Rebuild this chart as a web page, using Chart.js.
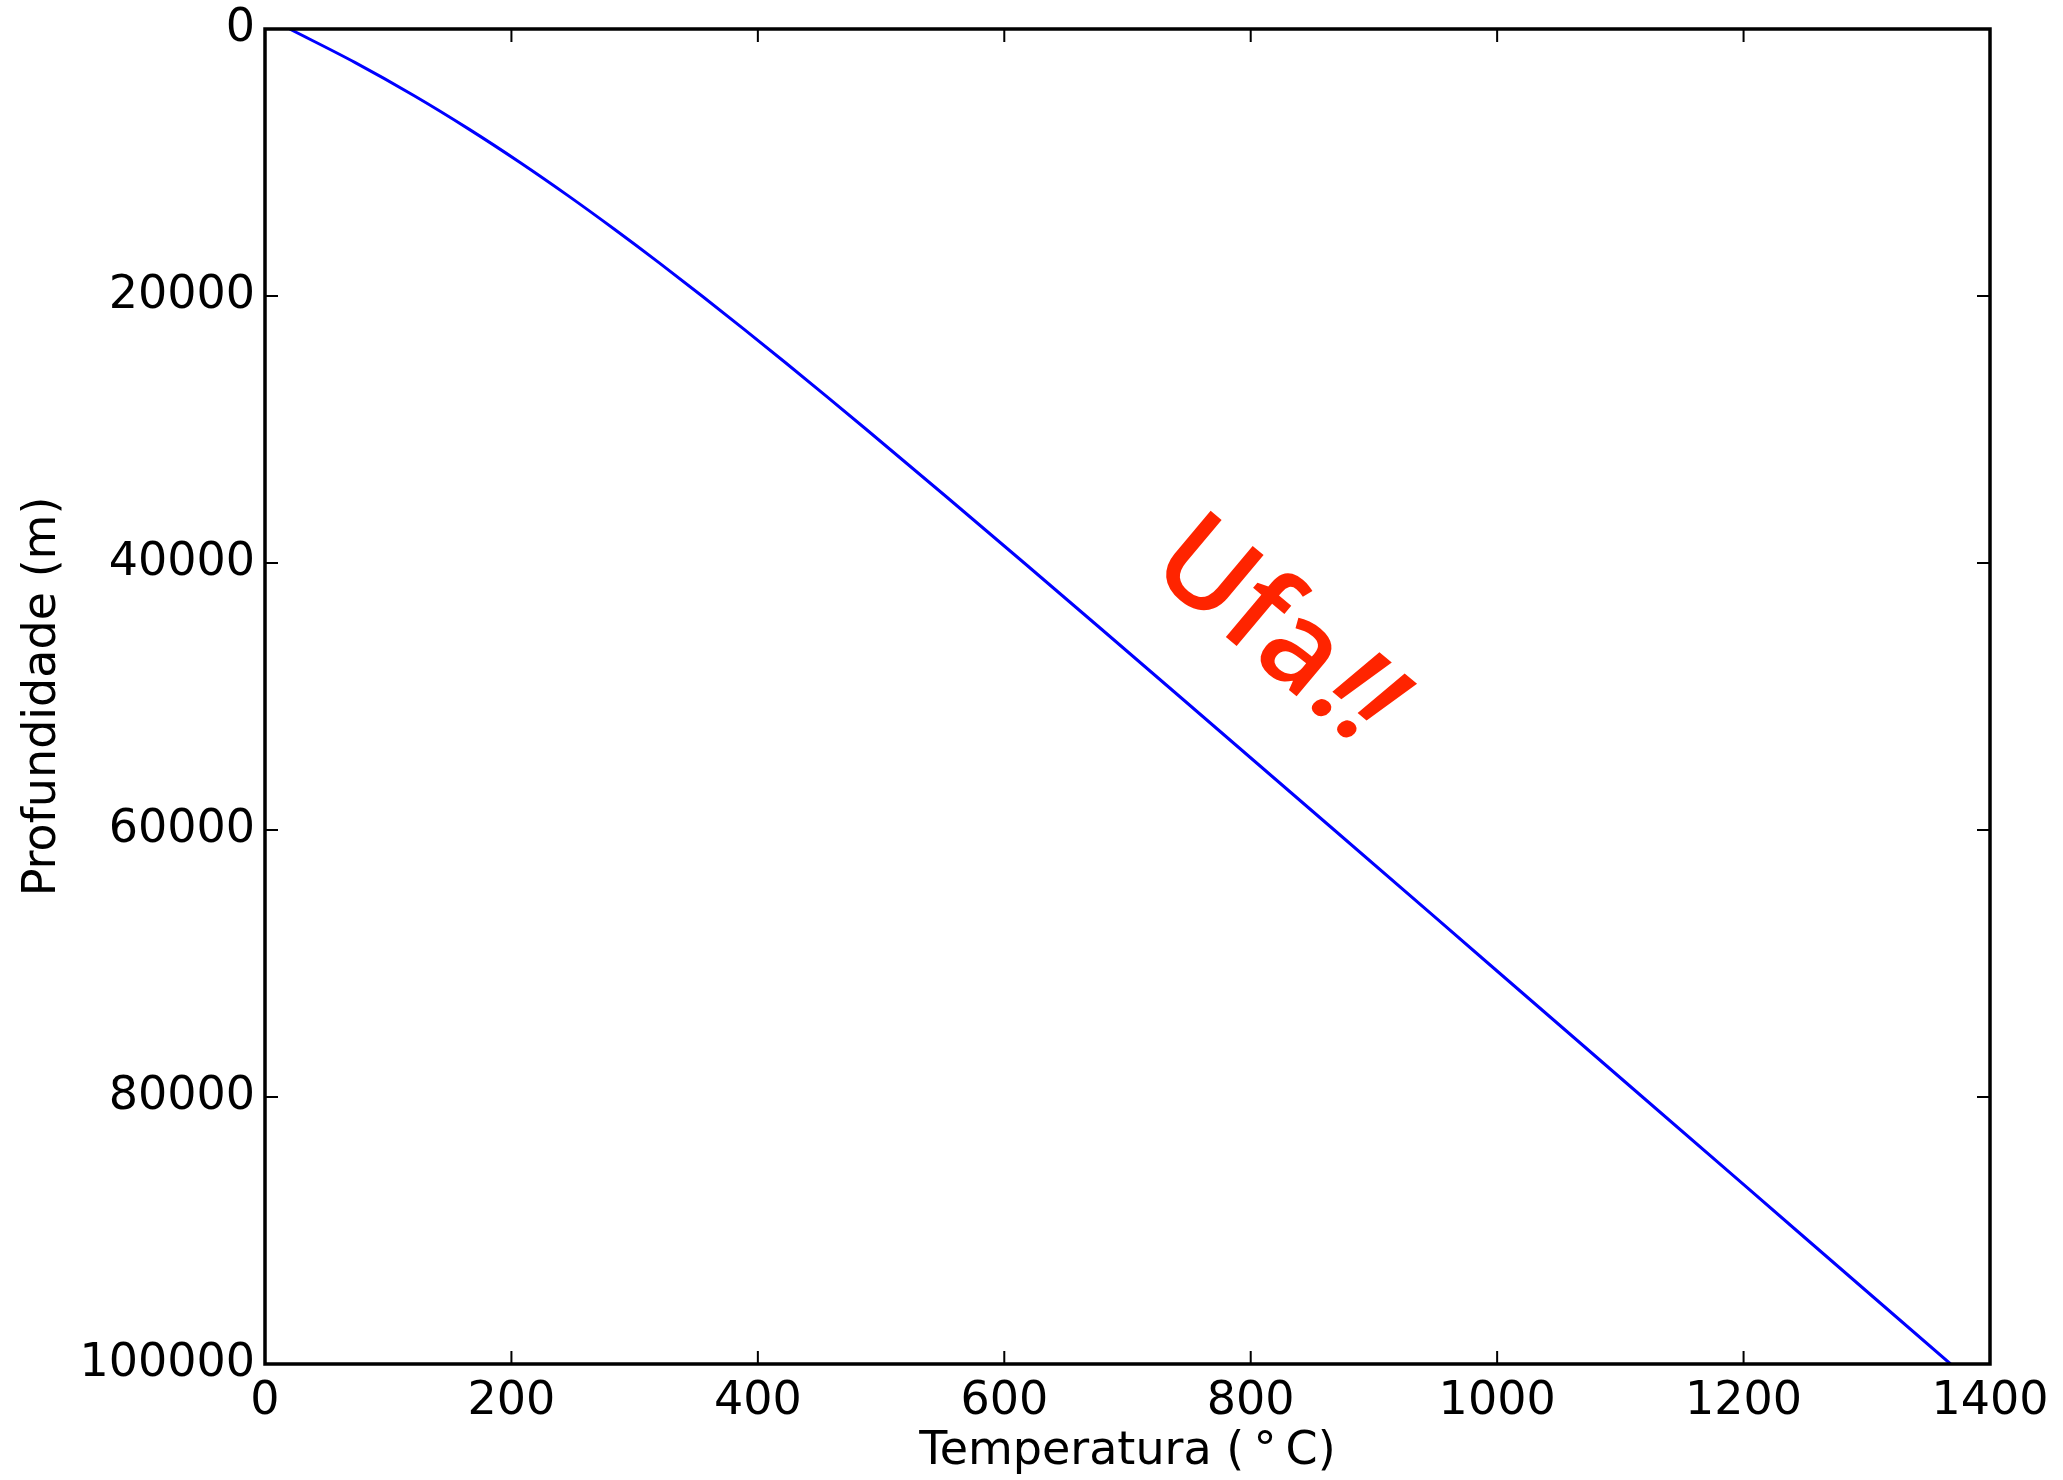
<!DOCTYPE html>
<html>
<head>
<meta charset="utf-8">
<script src="https://cdn.jsdelivr.net/npm/chart.js@4/dist/chart.umd.min.js"></script>
<style>
html,body{margin:0;padding:0;background:#fff;}
canvas{display:block;}
</style>
</head>
<body>
<canvas id="c" width="2063" height="1480"></canvas>
<script>
// Depth (m) and temperature (°C)
const depths = [0, 2500, 5000, 7500, 10000, 12500, 15000, 17500, 20000, 22500, 25000, 27500, 30000, 35000, 40000, 45000, 50000, 60000, 70000, 80000, 90000, 100000];
const temps  = [20, 72.9, 121.1, 165.5, 207.0, 246.2, 283.6, 319.7, 354.7, 388.9, 422.5, 455.5, 488.1, 552.5, 616.2, 679.4, 742.3, 867.8, 992.9, 1118.0, 1243.0, 1368.0];
const xTicks = [0, 200, 400, 600, 800, 1000, 1200, 1400];
const yTicks = [0, 20000, 40000, 60000, 80000, 100000];
const note = { text: 'Ufa', bang: '!!', x: 818, y: 45100 };

const points = depths.map((d, i) => ({ x: temps[i], y: d }));

const frameTicks = {
  id: 'frameTicks',
  afterDraw(chart) {
    const { ctx, chartArea: a, scales } = chart;
    const xs = scales.x, ys = scales.y;
    ctx.save();
    ctx.strokeStyle = '#000';
    ctx.lineWidth = 2;
    const L = 13;
    ctx.beginPath();
    xTicks.forEach(v => {
      const px = xs.getPixelForValue(v);
      ctx.moveTo(px, a.bottom); ctx.lineTo(px, a.bottom - L);
      ctx.moveTo(px, a.top); ctx.lineTo(px, a.top + L);
    });
    yTicks.forEach(v => {
      const py = ys.getPixelForValue(v);
      ctx.moveTo(a.left, py); ctx.lineTo(a.left + L, py);
      ctx.moveTo(a.right, py); ctx.lineTo(a.right - L, py);
    });
    ctx.stroke();
    ctx.lineWidth = 3.5;
    ctx.strokeRect(a.left, a.top, a.right - a.left, a.bottom - a.top);
    // annotation
    const tx = xs.getPixelForValue(note.x), ty = ys.getPixelForValue(note.y);
    ctx.translate(tx, ty);
    ctx.rotate(40 * Math.PI / 180);
    ctx.fillStyle = 'rgb(255,36,0)';
    const f1 = '600 122px "Open Sans"', f2 = 'italic 600 122px "Open Sans"';
    ctx.font = f1; const w1 = ctx.measureText(note.text).width;
    ctx.font = f2; const w2 = ctx.measureText(note.bang).width;
    const x0 = -(w1 + w2) / 2;
    ctx.textAlign = 'left';
    ctx.textBaseline = 'middle';
    ctx.font = f1; ctx.fillText(note.text, x0, 0);
    ctx.font = f2; ctx.fillText(note.bang, x0 + w1 + 6, 0);
    ctx.restore();
  }
};

Chart.defaults.font.family = '"DejaVu Sans"';
Chart.defaults.color = '#000';

new Chart(document.getElementById('c'), {
  type: 'scatter',
  data: {
    datasets: [{
      data: points,
      showLine: true,
      borderColor: '#0000ff',
      borderWidth: 3,
      pointRadius: 0,
      cubicInterpolationMode: 'monotone',
      fill: false
    }]
  },
  options: {
    responsive: false,
    animation: false,
    devicePixelRatio: 1,
    layout: { padding: { top: 29, right: 73, left: 0, bottom: 0 } },
    plugins: { legend: { display: false }, tooltip: { enabled: false } },
    scales: {
      x: {
        type: 'linear', min: 0, max: 1400,
        afterBuildTicks: s => { s.ticks = xTicks.map(v => ({ value: v })); },
        afterFit: s => { s.height = 116; s.paddingLeft = 0; s.paddingRight = 0; },
        grid: { display: false, drawTicks: false },
        border: { display: false },
        ticks: { font: { size: 46 }, padding: 10, maxRotation: 0, autoSkip: false, color: '#000', callback: v => String(v) },
        title: { display: true, text: 'Temperatura (\u2009°\u2009C)', font: { size: 46, lineHeight: 1.2 }, padding: { top: 0, bottom: 0 }, color: '#000' }
      },
      y: {
        type: 'linear', min: 0, max: 100000, reverse: true,
        afterBuildTicks: s => { s.ticks = yTicks.map(v => ({ value: v })); },
        afterFit: s => { s.width = 265; s.paddingTop = 0; s.paddingBottom = 0; },
        grid: { display: false, drawTicks: false },
        border: { display: false },
        ticks: { font: { size: 46 }, padding: 10, autoSkip: false, color: '#000', callback: v => String(v) },
        title: { display: true, text: 'Profundidade (m)', font: { size: 46, lineHeight: 1.2 }, padding: { top: 15, bottom: 0 }, color: '#000' }
      }
    }
  },
  plugins: [frameTicks]
});
</script>
</body>
</html>
